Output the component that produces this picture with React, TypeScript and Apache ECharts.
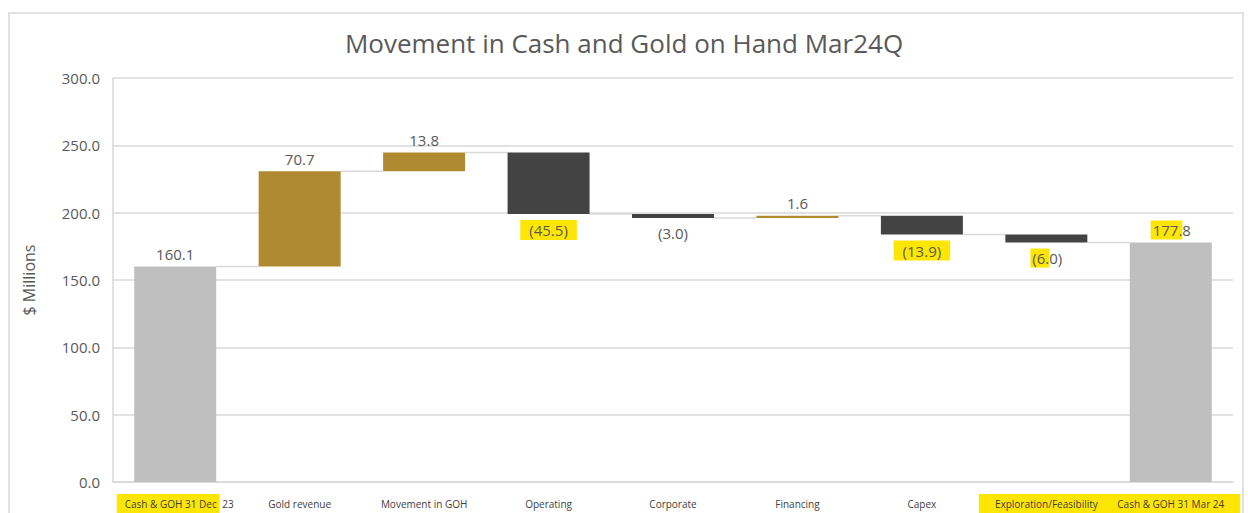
import React, { useEffect, useRef } from "react";
import * as echarts from "echarts";

const categories = [
  "Cash & GOH 31 Dec 23",
  "Gold revenue",
  "Movement in GOH",
  "Operating",
  "Corporate",
  "Financing",
  "Capex",
  "Exploration/Feasibility",
  "Cash & GOH 31 Mar 24",
];
const changes = [160.1, 70.7, 13.8, -45.5, -3.0, 1.6, -13.9, -6.0, 177.8];
const kinds = ["total", "up", "up", "down", "down", "up", "down", "down", "total"];
// number of leading characters of each value label that are highlighted (-1 = all)
const labelHighlightChars = [0, 0, 0, -1, 0, 0, -1, 3, 4];
// number of leading characters of each axis label that are highlighted (-1 = all)
const axisHighlightChars = [17, 0, 0, 0, 0, 0, 0, -1, -1];

const colors: Record<string, string> = {
  total: "#BFBFBF",
  up: "#B08A30",
  down: "#434343",
};

const FONT = "'Open Sans', 'DejaVu Sans', sans-serif";

function fmt(v: number) {
  const s = Math.abs(v).toFixed(1);
  return v < 0 ? `(${s})` : s;
}

function hl(text: string, n: number) {
  if (n === 0) return `{n|${text}}`;
  if (n < 0 || n >= text.length) return `{h|${text}}`;
  return `{h|${text.slice(0, n)}}{n|${text.slice(n)}}`;
}

export default function App() {
  const ref = useRef<HTMLDivElement>(null);
  useEffect(() => {
    if (!ref.current) return;
    const chart = echarts.init(ref.current, undefined, { renderer: "svg" });

    const bases: number[] = [];
    const heights: number[] = [];
    const levels: number[] = [];
    let running = 0;
    changes.forEach((c, i) => {
      const k = kinds[i];
      if (k === "total") {
        bases.push(0);
        heights.push(c);
        running = c;
      } else if (c >= 0) {
        bases.push(running);
        heights.push(c);
        running += c;
      } else {
        bases.push(running + c);
        heights.push(-c);
        running += c;
      }
      levels.push(running);
    });

    const valueData = heights.map((h, i) => {
      const neg = kinds[i] === "down";
      const full = labelHighlightChars[i] === -1;
      return {
        value: h,
        itemStyle: { color: colors[kinds[i]] },
        label: {
          show: true,
          position: neg ? "bottom" : "top",
          distance: neg ? 6 : 3,
          formatter: hl(fmt(changes[i]), labelHighlightChars[i]),
          rich: {
            h: {
              backgroundColor: "#FFE600",
              color: "#595959",
              fontSize: 15,
              fontFamily: FONT,
              padding: full ? [3, 9, 2, 9] : [2, 0, 2, 2],
            },
            n: { color: "#595959", fontSize: 15, fontFamily: FONT, padding: [2, 0, 2, 0] },
          },
        },
      };
    });

    const connectorData = levels.slice(0, levels.length - 1).map((l, i) => [i, l]);

    const option: any = {
      animation: false,
      backgroundColor: "#FFFFFF",
      title: {
        text: "Movement in Cash and Gold on Hand Mar24Q",
        left: "center",
        top: 25,
        textStyle: { color: "#595959", fontSize: 26, fontWeight: "normal", fontFamily: FONT },
      },
      graphic: [
        {
          type: "rect",
          shape: { x: 9, y: 13, width: 1234, height: 520 },
          style: { fill: "none", stroke: "#D9D9D9", lineWidth: 1.5 },
          silent: true,
        },
      ],
      grid: { left: 113, right: 15, top: 78, bottom: 31, outerBoundsMode: "none", containLabel: false },
      xAxis: {
        type: "category",
        data: categories,
        axisLine: { lineStyle: { color: "#D9D9D9", width: 1.5 } },
        axisTick: { show: false },
        axisLabel: {
          interval: 0,
          margin: 12,
          fontSize: 10,
          fontFamily: FONT,
          color: "#404040",
          formatter: (v: string, idx: number) => {
            const n = axisHighlightChars[idx];
            if (n === -1) return `{w|${v}}`;
            return hl(v, n);
          },
          rich: {
            h: { backgroundColor: "#FFE600", color: "#404040", fontSize: 10, fontFamily: FONT, padding: [5, 3, 8, 8] },
            w: { backgroundColor: "#FFE600", color: "#404040", fontSize: 10, fontFamily: FONT, padding: [5, 16, 8, 16] },
            n: { color: "#404040", fontSize: 10, fontFamily: FONT, padding: [5, 0, 8, 0] },
          },
        },
      },
      yAxis: {
        type: "value",
        min: 0,
        max: 300,
        interval: 50,
        name: "$ Millions",
        nameLocation: "middle",
        nameGap: 76,
        nameTextStyle: { color: "#595959", fontSize: 16, fontFamily: FONT },
        axisLine: { show: true, lineStyle: { color: "#D9D9D9", width: 1.5 } },
        axisTick: { show: false },
        splitLine: { lineStyle: { color: "#D9D9D9", width: 1.5 } },
        axisLabel: {
          margin: 13,
          fontSize: 15,
          fontFamily: FONT,
          color: "#595959",
          formatter: (v: number) => v.toFixed(1),
        },
      },
      series: [
        {
          type: "bar",
          stack: "wf",
          data: bases,
          barWidth: 82,
          itemStyle: { color: "transparent" },
          silent: true,
        },
        {
          type: "bar",
          stack: "wf",
          data: valueData,
          barWidth: 82,
        },
        {
          type: "custom",
          data: connectorData,
          z: 1,
          renderItem: (params: any, api: any) => {
            const i = api.value(0);
            const l = api.value(1);
            const p1 = api.coord([i, l]);
            const p2 = api.coord([i + 1, l]);
            const half = 41;
            return {
              type: "line",
              shape: { x1: p1[0] + half, y1: p1[1], x2: p2[0] - half, y2: p2[1] },
              style: { stroke: "#D9D9D9", lineWidth: 1.5 },
            };
          },
        },
      ],
    };
    chart.setOption(option);
    return () => chart.dispose();
  }, []);
  return (
    <div
      ref={ref}
      style={{ position: "absolute", left: 0, top: 0, width: 1248, height: 513 }}
    />
  );
}
